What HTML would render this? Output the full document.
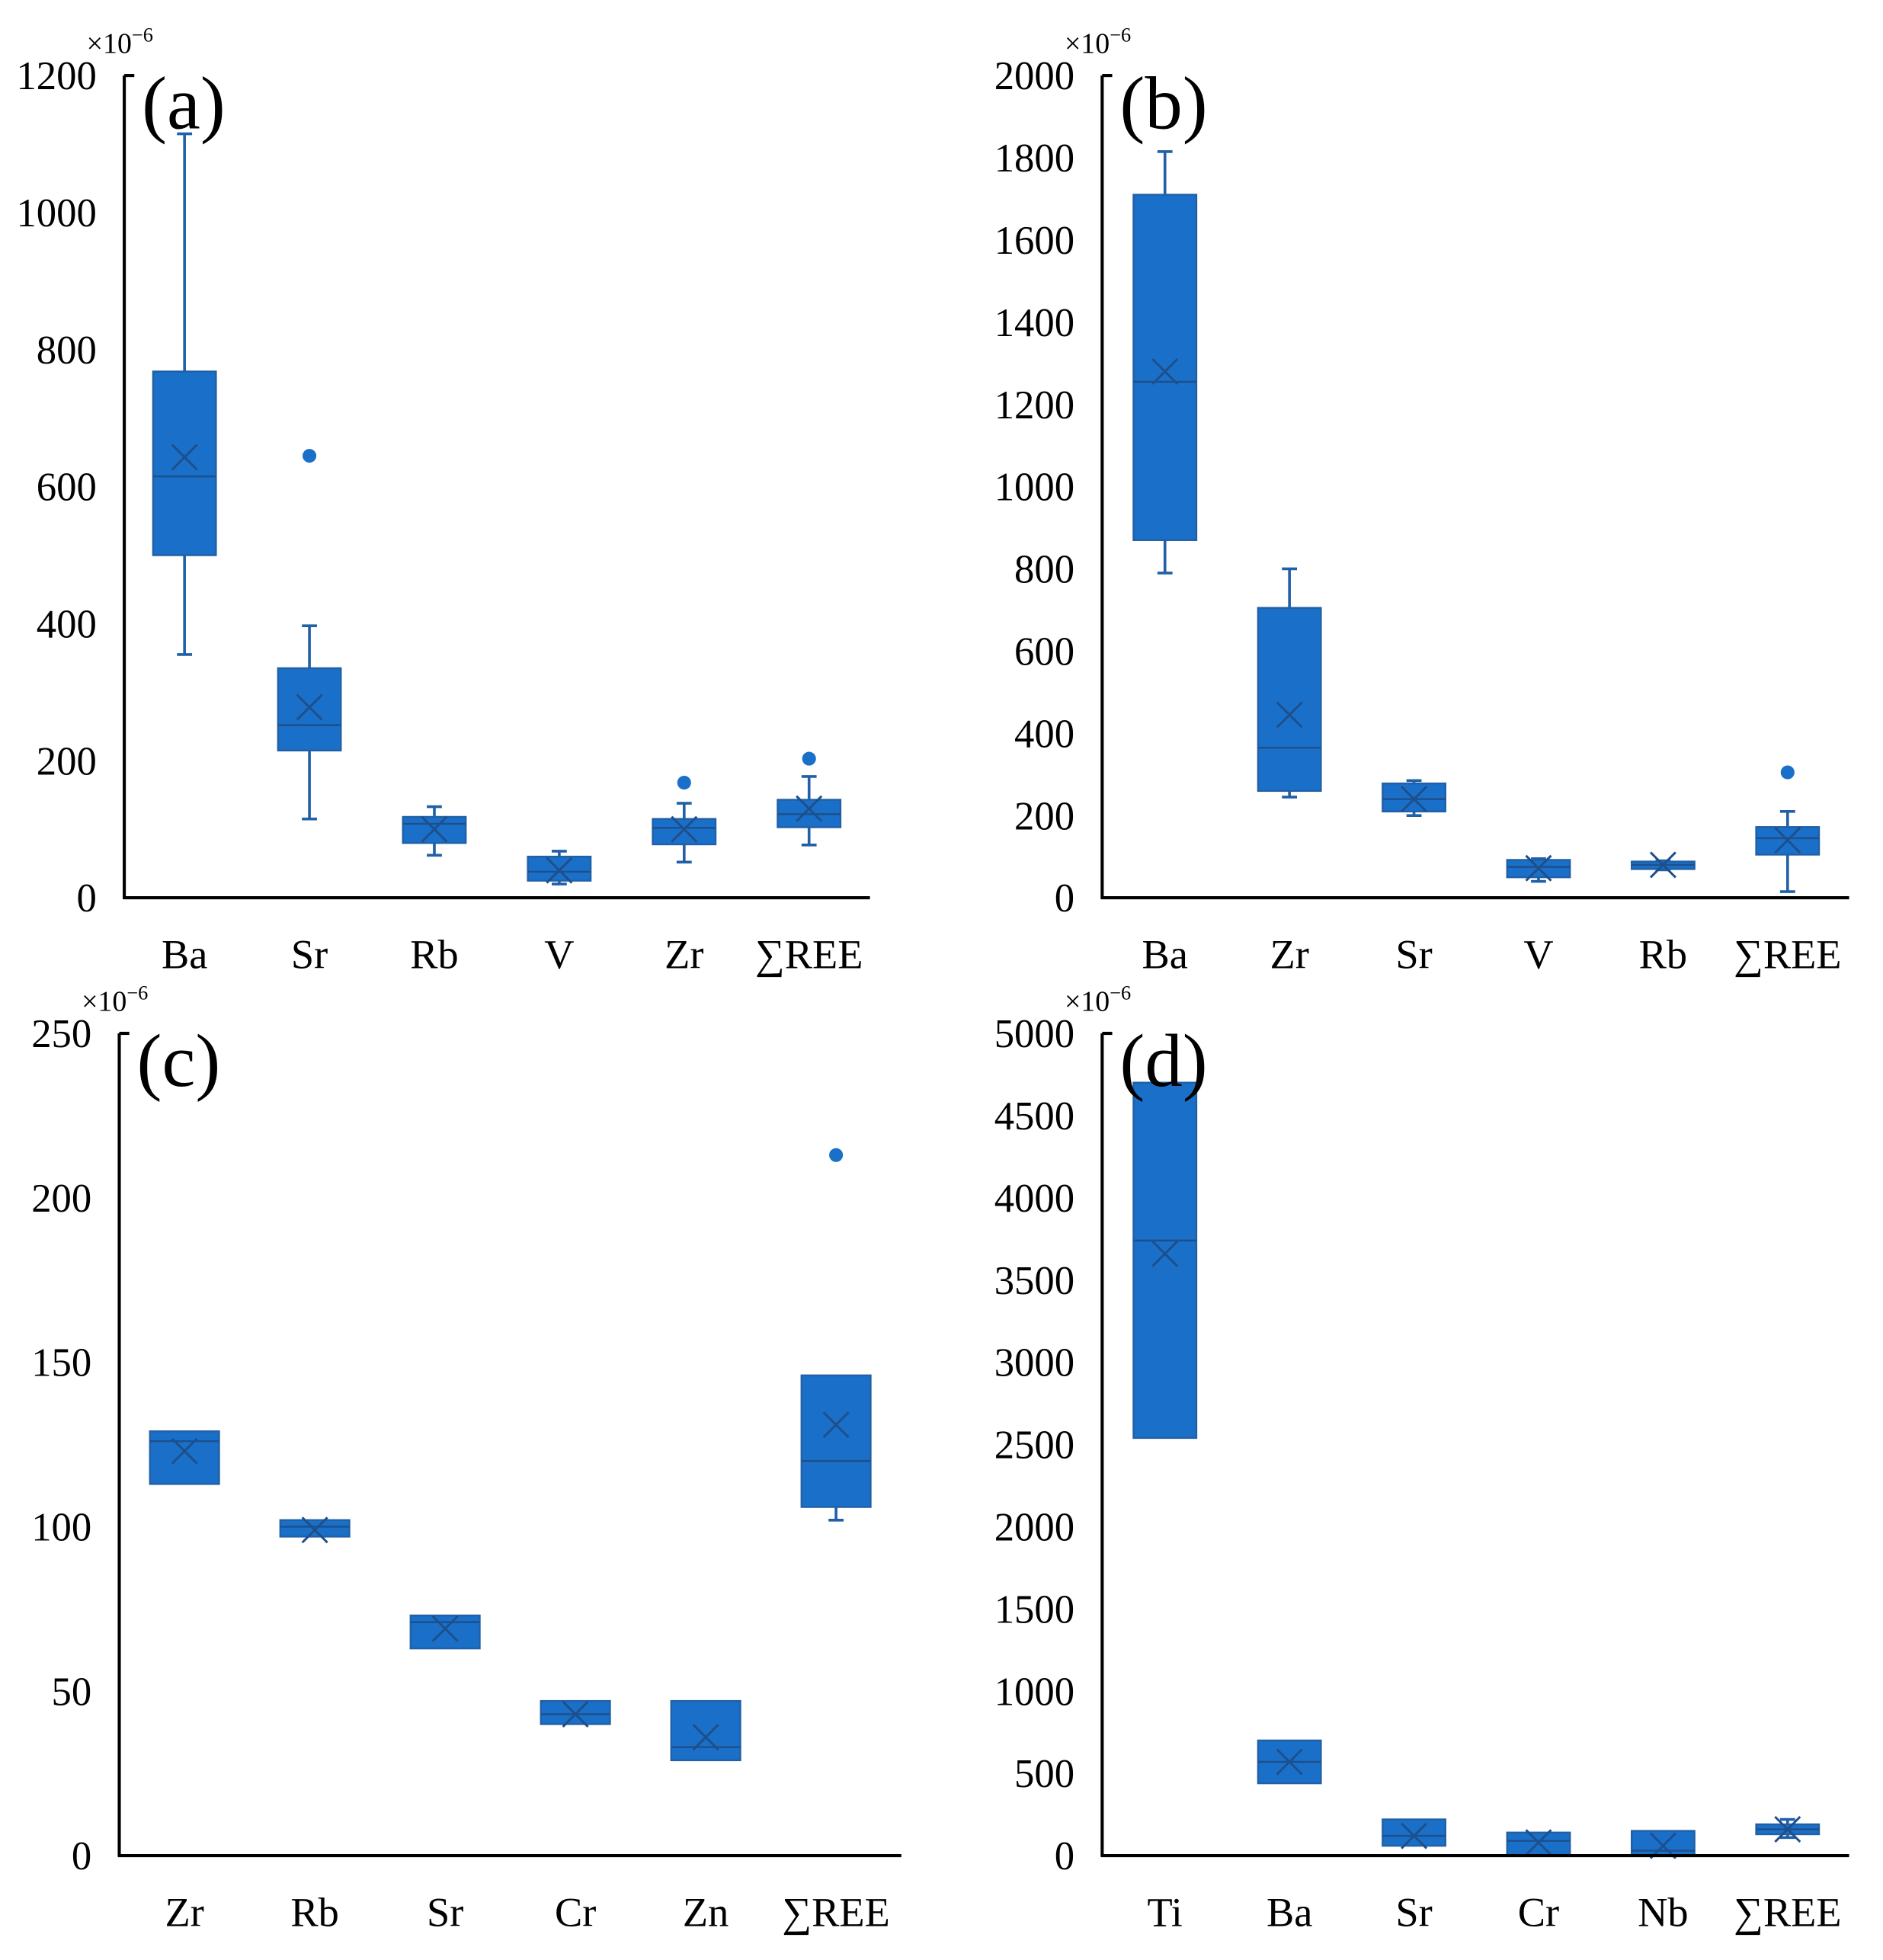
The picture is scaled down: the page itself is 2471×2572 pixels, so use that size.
<!DOCTYPE html>
<html><head><meta charset="utf-8">
<style>
html,body{margin:0;padding:0;background:#fff;}
svg{display:block;}
text{font-family:"Liberation Serif",serif;fill:#000;}
</style></head>
<body>
<svg id="fig" width="2471" height="2572" viewBox="0 0 1500 1561" xmlns="http://www.w3.org/2000/svg"></svg>
<script>
// Panel (a)
const catsA = ["Ba","Sr","Rb","V","Zr","∑REE"];
const minA  = [355,115,62,20,52,77];
const q1A   = [500,215,80,25,78,103];
const medA  = [615,252,108,38,102,122];
const q3A   = [768,335,118,60,115,143];
const maxA  = [1115,397,133,68,138,177];
const meanA = [643,278,100,40,100,130];
const outA  = [null,645,null,null,168,203];
const ticksA = [0,200,400,600,800,1000,1200];
// Panel (b)
const catsB = ["Ba","Zr","Sr","V","Rb","∑REE"];
const minB  = [790,245,200,40,68,15];
const q1B   = [870,260,210,50,70,105];
const medB  = [1255,365,240,75,80,145];
const q3B   = [1710,705,278,92,88,172];
const maxB  = [1815,800,285,95,90,210];
const meanB = [1280,445,240,72,80,140];
const outB  = [null,null,null,null,null,305];
const ticksB = [0,200,400,600,800,1000,1200,1400,1600,1800,2000];
// Panel (c)
const catsC = ["Zr","Rb","Sr","Cr","Zn","∑REE"];
const minC  = [113,97,63,40,29,102];
const q1C   = [113,97,63,40,29,106];
const medC  = [126,100,71,43,33,120];
const q3C   = [129,102,73,47,47,146];
const maxC  = [129,102,73,47,47,146];
const meanC = [123,99,69,43,36,131];
const outC  = [null,null,null,null,null,213];
const ticksC = [0,50,100,150,200,250];
// Panel (d)
const catsD = ["Ti","Ba","Sr","Cr","Nb","∑REE"];
const minD  = [2540,440,60,0,0,110];
const q1D   = [2540,440,60,0,0,130];
const medD  = [3740,570,120,90,30,160];
const q3D   = [4700,700,220,140,150,190];
const maxD  = [4700,700,220,140,150,220];
const meanD = [3660,570,120,80,60,160];
const outD  = [null,null,null,null,null,null];
const ticksD = [0,500,1000,1500,2000,2500,3000,3500,4000,4500,5000];

const NS="http://www.w3.org/2000/svg";
const svg=document.getElementById('fig');
function mk(tag,attrs,parent){const e=document.createElementNS(NS,tag);for(const k in attrs)e.setAttribute(k,attrs[k]);(parent||svg).appendChild(e);return e;}

function panel(id,label,ax,top,zero,axEnd,firstC,step,bw,ymax,cats,mn,q1,md,q3,mx,mean,out,ticks){
  const g=mk('g',{});
  
  
  const y=v=>zero-(v/ymax)*(zero-top);
  const x=i=>firstC+i*step;
  const fill="#1a70c8", edge="#2160a6", dark="#1d4f8c";
  cats.forEach((c,i)=>{
    const bg=mk('g',{},g);
    
    
    const cx=x(i);
    if(mx[i]>q3[i]){mk('line',{x1:cx,x2:cx,y1:y(q3[i]),y2:y(mx[i]),stroke:edge,'stroke-width':2.2},bg);
      mk('line',{x1:cx-6,x2:cx+6,y1:y(mx[i]),y2:y(mx[i]),stroke:edge,'stroke-width':2.2},bg);}
    if(mn[i]<q1[i]){mk('line',{x1:cx,x2:cx,y1:y(q1[i]),y2:y(mn[i]),stroke:edge,'stroke-width':2.2},bg);
      mk('line',{x1:cx-6,x2:cx+6,y1:y(mn[i]),y2:y(mn[i]),stroke:edge,'stroke-width':2.2},bg);}
    const h=Math.max(2,y(q1[i])-y(q3[i]));
    mk('rect',{x:cx-bw/2,y:y(q3[i]),width:bw,height:h,fill:fill,stroke:edge,'stroke-width':1.5},bg);
    mk('line',{x1:cx-bw/2,x2:cx+bw/2,y1:y(md[i]),y2:y(md[i]),stroke:dark,'stroke-width':1.5},bg);
    const my=y(mean[i]);
    mk('path',{d:`M${cx-10},${my-10}L${cx+10},${my+10}M${cx-10},${my+10}L${cx+10},${my-10}`,stroke:dark,'stroke-width':1.8,fill:'none'},bg);
    if(out[i]!==null){const o=mk('circle',{cx:cx,cy:y(out[i]),r:5.5,fill:fill},bg);
      
      }
    const t=mk('text',{x:cx,y:zero+56,'font-size':33,'text-anchor':'middle'},g);
    t.textContent=c;
    
    
  });
  const ya=mk('line',{x1:ax,x2:ax,y1:top,y2:zero+1,stroke:'#000','stroke-width':2.5},g);
  
  
  const xa=mk('line',{x1:ax-1,x2:axEnd,y1:zero,y2:zero,stroke:'#000','stroke-width':2.5},g);
  
  
  mk('line',{x1:ax,x2:ax+8,y1:top,y2:top,stroke:'#000','stroke-width':2.5},g);
  ticks.forEach(v=>{
    const t=mk('text',{x:ax-22,y:y(v)+11,'font-size':32,'text-anchor':'end'},g);
    t.textContent=v;
    
    
  });
  const u=mk('text',{x:ax-30,y:top-18,'font-size':23},g);
  u.innerHTML='×10<tspan dy="-9" font-size="16">−6</tspan>';
  
  
  const pl=mk('text',{x:ax+14,y:top+42,'font-size':60},g);
  pl.textContent=label;
  
  
}
panel('a','(a)',99,60,715,693,147,99.5,50,1200,catsA,minA,q1A,medA,q3A,maxA,meanA,outA,ticksA);
panel('b','(b)',878,60,715,1473,928,99.2,50,2000,catsB,minB,q1B,medB,q3B,maxB,meanB,outB,ticksB);
panel('c','(c)',95,823,1478,718,147,103.8,55,250,catsC,minC,q1C,medC,q3C,maxC,meanC,outC,ticksC);
panel('d','(d)',878,823,1478,1473,928,99.2,50,5000,catsD,minD,q1D,medD,q3D,maxD,meanD,outD,ticksD);
</script>
</body></html>
